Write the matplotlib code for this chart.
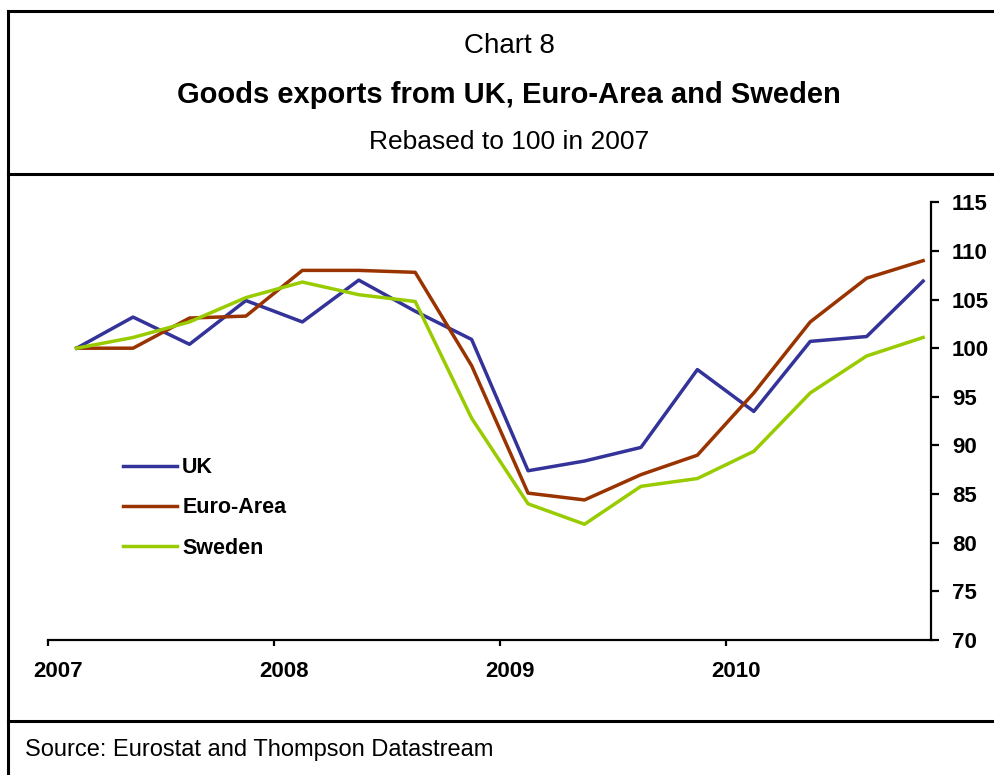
import numpy as np
import matplotlib
matplotlib.use('Agg')
from matplotlib import pyplot as plt
from matplotlib.lines import Line2D

plt.rcParams['font.family'] = ['Liberation Sans', 'DejaVu Sans']

# quarterly data, 2007 Q1 .. 2010 Q4 (rebased, 2007 = 100)
quarters = [f'{y} Q{q}' for y in (2007, 2008, 2009, 2010) for q in (1, 2, 3, 4)]
years = ['2007', '2008', '2009', '2010']
uk = [100.0, 103.2, 100.4, 104.9, 102.7, 107.0, 103.8, 100.9,
      87.4, 88.4, 89.8, 97.8, 93.5, 100.7, 101.2, 106.9]
euro_area = [100.0, 100.0, 103.1, 103.3, 108.0, 108.0, 107.8, 98.2,
             85.1, 84.4, 87.0, 89.0, 95.4, 102.7, 107.2, 109.0]
sweden = [100.0, 101.1, 102.7, 105.2, 106.8, 105.5, 104.8, 92.8,
          84.0, 81.9, 85.8, 86.6, 89.4, 95.4, 99.2, 101.1]
y_ticks = [70, 75, 80, 85, 90, 95, 100, 105, 110, 115]

W, H = 994, 775
fig = plt.figure(figsize=(W / 100, H / 100), dpi=100)

# frame lines round the chart
frame = dict(color='black', linewidth=2.2, transform=fig.transFigure)
fig.add_artist(Line2D([7.5 / W, 1], [1 - 11 / H, 1 - 11 / H], **frame))
fig.add_artist(Line2D([7.5 / W, 7.5 / W], [0, 1 - 11 / H], **frame))
fig.add_artist(Line2D([7.5 / W, 1], [1 - 174 / H, 1 - 174 / H], **frame))
fig.add_artist(Line2D([7.5 / W, 1], [1 - 720.5 / H, 1 - 720.5 / H], **frame))

cx = 509 / W
fig.text(cx, 1 - 46 / H, 'Chart 8', ha='center', va='center', fontsize=20)
fig.text(cx, 1 - 95 / H, 'Goods exports from UK, Euro-Area and Sweden',
         ha='center', va='center', fontsize=21, fontweight='bold')
fig.text(cx, 1 - 142 / H, 'Rebased to 100 in 2007', ha='center', va='center', fontsize=19)
fig.text(25 / W, 1 - 750 / H, 'Source: Eurostat and Thompson Datastream',
         ha='left', va='center', fontsize=17)

ax = fig.add_axes([48.4 / W, 1 - 640 / H, 882.6 / W, 437.7 / H])
x = np.arange(len(quarters))
ax.plot(x, uk, color='#333399', linewidth=2.5, label='UK')
ax.plot(x, euro_area, color='#993300', linewidth=2.5, label='Euro-Area')
ax.plot(x, sweden, color='#99CC00', linewidth=2.5, label='Sweden')

ax.set_xlim(-0.5, len(quarters) - 0.86)
ax.set_ylim(70, 115)

for side in ('left', 'top'):
    ax.spines[side].set_visible(False)
for side in ('right', 'bottom'):
    ax.spines[side].set_linewidth(1.6)

ax.yaxis.tick_right()
ax.set_yticks(y_ticks)
ax.set_yticklabels([str(v) for v in y_ticks], fontsize=16, fontweight='bold')
ax.tick_params(axis='y', direction='out', length=6, width=1.6, pad=9)

year_starts = np.arange(0, len(quarters), 4) - 0.5
ax.set_xticks(year_starts, minor=True)
ax.set_xticks(year_starts + 0.18)
ax.set_xticklabels(years, fontsize=16, fontweight='bold')
ax.tick_params(axis='x', which='major', length=0, pad=15)
ax.tick_params(axis='x', which='minor', direction='out', length=4, width=1.6)

ax.legend(loc='upper left', bbox_to_anchor=(0.0845, 0.418), frameon=False,
          prop={'size': 15.5, 'weight': 'bold'}, handlelength=2.5,
          handletextpad=0.25, labelspacing=0.9, borderpad=0, borderaxespad=0)

fig.savefig('out.png', dpi=100)
